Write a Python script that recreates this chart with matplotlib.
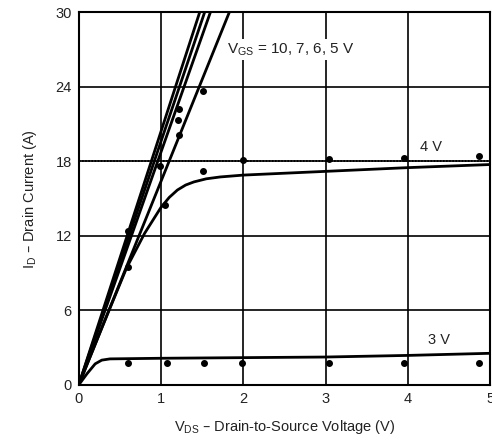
import numpy as np
import matplotlib.pyplot as plt

plt.rcParams['font.family'] = ['Liberation Sans', 'DejaVu Sans']

# steep curves, VGS = 10, 7, 6, 5 V (straight from origin to top edge)
steep_vds_top = [1.47, 1.53, 1.60, 1.83]
steep_id_top = [30, 30, 30, 30]

# 4 V curve
vds_4v = [0, 0.3, 0.58, 0.8, 1.0, 1.1, 1.2, 1.3, 1.4, 1.55, 1.72, 2.0, 3.0, 4.0, 5.0]
id_4v = [0, 4.9, 9.4, 12.2, 14.3, 15.1, 15.7, 16.1, 16.35, 16.6, 16.75, 16.9, 17.2, 17.5, 17.75]

# 3 V curve
vds_3v = [0, 0.1, 0.2, 0.28, 0.38, 1.0, 2.0, 3.0, 4.0, 5.0]
id_3v = [0, 0.9, 1.7, 2.0, 2.1, 2.15, 2.2, 2.25, 2.38, 2.55]

# measured points
pts_steep_x = [0.6, 0.99, 1.22, 1.21, 1.22, 1.51]
pts_steep_y = [12.4, 17.6, 20.1, 21.3, 22.2, 23.7]
pts_4v_x = [0.6, 1.05, 1.51, 2.0, 3.04, 3.95, 4.86]
pts_4v_y = [9.5, 14.5, 17.2, 18.1, 18.2, 18.3, 18.4]
pts_3v_x = [0.6, 1.07, 1.52, 1.98, 3.04, 3.95, 4.86]
pts_3v_y = [1.75, 1.8, 1.8, 1.8, 1.8, 1.8, 1.8]

fig = plt.figure(figsize=(4.92, 4.43), dpi=100)
ax = fig.add_axes([0.16, 0.131, 0.836, 0.841])

for v, i in zip(steep_vds_top, steep_id_top):
    ax.plot([0, v], [0, i], color='black', lw=2.0, solid_capstyle='butt')
ax.plot(vds_4v, id_4v, color='black', lw=2.0)
ax.plot(vds_3v, id_3v, color='black', lw=2.0)

ax.axhline(18, color='black', lw=1.4, ls=(0, (0.8, 0.8)))

ax.plot(pts_steep_x, pts_steep_y, 'o', color='black', ms=4)
ax.plot(pts_4v_x, pts_4v_y, 'o', color='black', ms=4)
ax.plot(pts_3v_x, pts_3v_y, 'o', color='black', ms=4)

ax.set_xlim(0, 5)
ax.set_ylim(0, 30)
ax.set_xticks([0, 1, 2, 3, 4, 5])
ax.set_yticks([0, 6, 12, 18, 24, 30])
ax.grid(True, color='black', lw=1.2)
ax.tick_params(length=0, labelsize=10.5, pad=5, colors='#222222')
for s in ax.spines.values():
    s.set_linewidth(1.5)

fs = 10.5
ax.text(1.8, 27.0, '$\\mathregular{V_{GS}}$ = 10, 7, 6, 5 V', fontsize=11, color='#222222',
        va='center', bbox=dict(facecolor='white', edgecolor='none', pad=1.5), zorder=5)
ax.text(4.15, 18.8, '4 V', fontsize=fs, color='#222222')
ax.text(4.25, 3.3, '3 V', fontsize=fs, color='#222222')

ax.set_xlabel('$\\mathregular{V_{DS}}$ – Drain-to-Source Voltage (V)', fontsize=fs, labelpad=9, color='#222222')
ax.set_ylabel('$\\mathregular{I_{D}}$ – Drain Current (A)', fontsize=fs, labelpad=12, color='#222222')

fig.savefig('out.png', dpi=100)
